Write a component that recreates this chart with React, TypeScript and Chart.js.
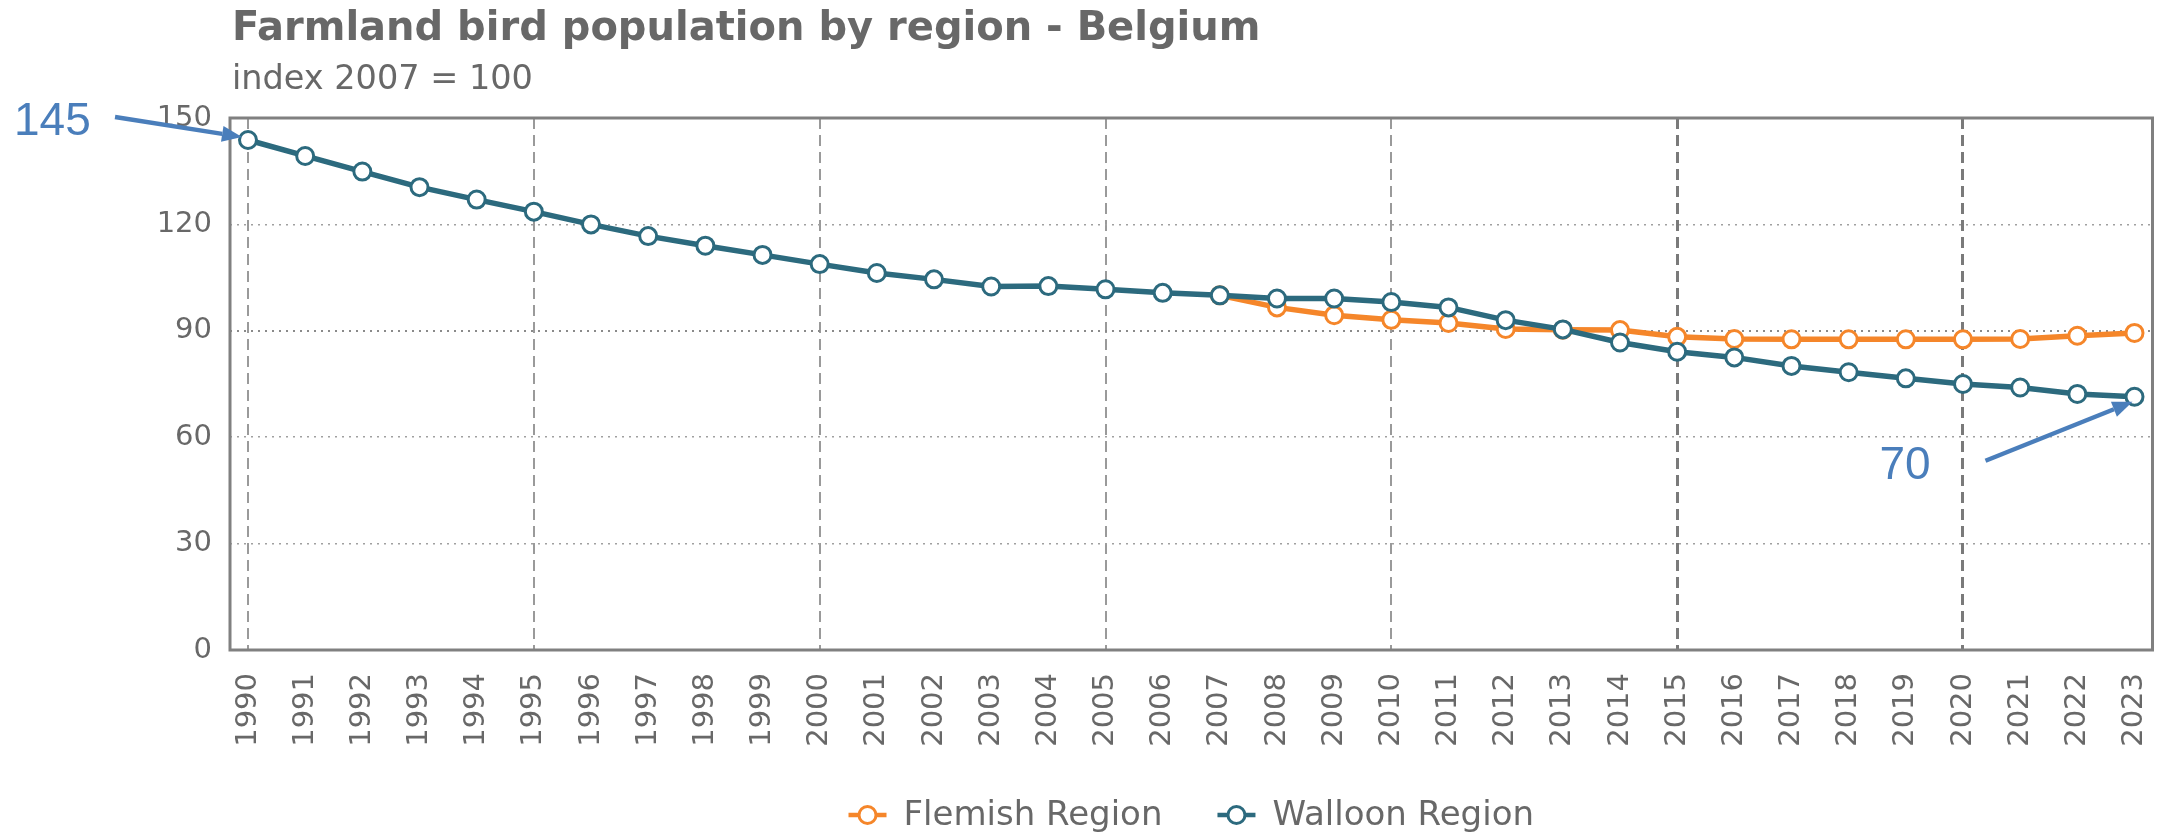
import React, { useEffect, useRef } from "react";
import { Chart, registerables } from "chart.js";

Chart.register(...registerables);

// ---------- data ----------
const years = [
  1990, 1991, 1992, 1993, 1994, 1995, 1996, 1997, 1998, 1999, 2000, 2001,
  2002, 2003, 2004, 2005, 2006, 2007, 2008, 2009, 2010, 2011, 2012, 2013,
  2014, 2015, 2016, 2017, 2018, 2019, 2020, 2021, 2022, 2023,
];

const flemish = [
  null, null, null, null, null, null, null, null, null, null, null, null,
  null, null, null, null, null, 100.0, 96.6, 94.4, 93.1, 92.2, 90.5, 90.3,
  90.2, 88.3, 87.7, 87.6, 87.6, 87.6, 87.6, 87.7, 88.6, 89.4,
];

const walloon = [
  143.8, 139.3, 134.9, 130.5, 127.0, 123.6, 120.0, 116.7, 114.0, 111.4, 108.8, 106.3,
  104.5, 102.5, 102.6, 101.7, 100.7, 100.0, 99.1, 99.1, 98.1, 96.6, 93.0, 90.4,
  86.7, 84.1, 82.5, 80.1, 78.3, 76.6, 75.0, 74.0, 72.2, 71.4,
];

const seriesNames = ["Flemish Region", "Walloon Region"];
const seriesColors = ["#f5862a", "#2c6a7e"];
const yTickValues = [0, 30, 60, 90, 120, 150];
const majorYears = [1990, 1995, 2000, 2005, 2010, 2015, 2020];
const heavyYears = [2015, 2020];
const titleText = "Farmland bird population by region - Belgium";
const subtitleText = "index 2007 = 100";
const callouts = [
  { label: "145", yearIndex: 0 },
  { label: "70", yearIndex: 33 },
];

const FONT = "'DejaVu Sans', Verdana, sans-serif";
const TEXT_GRAY = "#686868";

function drawArrow(ctx: CanvasRenderingContext2D, x1: number, y1: number, x2: number, y2: number) {
  const color = "#4a7ebb";
  const ang = Math.atan2(y2 - y1, x2 - x1);
  const headLen = 20;
  const headW = 8;
  const bx = x2 - headLen * Math.cos(ang);
  const by = y2 - headLen * Math.sin(ang);
  ctx.save();
  ctx.strokeStyle = color;
  ctx.fillStyle = color;
  ctx.lineWidth = 4.5;
  ctx.lineCap = "butt";
  ctx.beginPath();
  ctx.moveTo(x1, y1);
  ctx.lineTo(bx, by);
  ctx.stroke();
  ctx.beginPath();
  ctx.moveTo(x2, y2);
  ctx.lineTo(bx + headW * Math.sin(ang), by - headW * Math.cos(ang));
  ctx.lineTo(bx - headW * Math.sin(ang), by + headW * Math.cos(ang));
  ctx.closePath();
  ctx.fill();
  ctx.restore();
}

const overlayPlugin = {
  id: "overlay",
  beforeDatasetsDraw(chart: any) {
    const { ctx, chartArea } = chart;
    ctx.save();
    ctx.strokeStyle = "#808080";
    ctx.lineWidth = 3;
    ctx.strokeRect(chartArea.left, chartArea.top, chartArea.right - chartArea.left, chartArea.bottom - chartArea.top);
    ctx.restore();
  },
  afterDraw(chart: any) {
    const { ctx, chartArea, scales } = chart;
    ctx.save();
    // title + subtitle
    ctx.fillStyle = TEXT_GRAY;
    ctx.textAlign = "left";
    ctx.textBaseline = "alphabetic";
    ctx.font = `bold 40px ${FONT}`;
    ctx.fillText(titleText, chartArea.left + 2, 40);
    ctx.font = `33.5px ${FONT}`;
    ctx.fillText(subtitleText, chartArea.left + 2, 89);

    // legend
    ctx.font = `34px ${FONT}`;
    const markerW = 38;
    const markerGap = 17;
    const itemGap = 55;
    const widths = seriesNames.map((n) => markerW + markerGap + ctx.measureText(n).width);
    const total = widths.reduce((a, b) => a + b, 0) + itemGap * (widths.length - 1);
    let lx = (chartArea.left + chartArea.right) / 2 - total / 2;
    const ly = 815;
    seriesNames.forEach((name, i) => {
      ctx.strokeStyle = seriesColors[i];
      ctx.lineWidth = 4.5;
      ctx.beginPath();
      ctx.moveTo(lx, ly);
      ctx.lineTo(lx + markerW, ly);
      ctx.stroke();
      ctx.beginPath();
      ctx.arc(lx + markerW / 2, ly, 8.5, 0, Math.PI * 2);
      ctx.fillStyle = "#ffffff";
      ctx.fill();
      ctx.lineWidth = 3;
      ctx.stroke();
      ctx.fillStyle = TEXT_GRAY;
      ctx.textBaseline = "middle";
      ctx.fillText(name, lx + markerW + markerGap, ly + 1);
      lx += widths[i] + itemGap;
    });

    // callouts
    const x = scales.x;
    const y = scales.y;
    ctx.font = `46px 'Liberation Sans', Arial, sans-serif`;
    ctx.fillStyle = "#4a7ebb";
    ctx.textBaseline = "alphabetic";
    {
      const c = callouts[0];
      const px = x.getPixelForValue(years[c.yearIndex]);
      const py = y.getPixelForValue(walloon[c.yearIndex]);
      ctx.fillText(c.label, px - 234, py - 5);
      drawArrow(ctx, px - 133, py - 23, px - 6, py - 3);
    }
    {
      const c = callouts[1];
      const px = x.getPixelForValue(years[c.yearIndex]);
      const py = y.getPixelForValue(walloon[c.yearIndex]);
      ctx.fillText(c.label, px - 255, py + 82);
      drawArrow(ctx, px - 149, py + 64, px - 2, py + 5);
    }
    ctx.restore();
  },
};

export default function App() {
  const canvasRef = useRef<HTMLCanvasElement | null>(null);

  useEffect(() => {
    document.body.style.margin = "0";
    document.body.style.overflow = "hidden";
    const canvas = canvasRef.current;
    if (!canvas) return;

    const makeDataset = (idx: number, values: (number | null)[], order: number) => ({
      label: seriesNames[idx],
      data: years.map((yr, i) => ({ x: yr, y: values[i] })),
      borderColor: seriesColors[idx],
      backgroundColor: seriesColors[idx],
      borderWidth: 5.5,
      pointRadius: 8.5,
      pointHoverRadius: 8.5,
      pointBorderWidth: 3,
      pointBackgroundColor: "#ffffff",
      pointBorderColor: seriesColors[idx],
      tension: 0,
      spanGaps: false,
      order,
    });

    const chart = new Chart(canvas, {
      type: "line",
      data: {
        datasets: [makeDataset(0, flemish, 1), makeDataset(1, walloon, 0)],
      },
      options: {
        animation: false,
        responsive: false,
        devicePixelRatio: 1,
        layout: { padding: { top: 118, right: 10, left: 0, bottom: 0 } },
        plugins: {
          legend: { display: false },
          title: { display: false },
          tooltip: { enabled: false },
        },
        scales: {
          x: {
            type: "linear",
            min: 1989.685,
            max: 2023.315,
            afterBuildTicks: (scale: any) => {
              scale.ticks = years.map((v) => ({ value: v }));
            },
            afterFit: (scale: any) => {
              scale.height = 186;
              scale.paddingLeft = 0;
              scale.paddingRight = 0;
            },
            ticks: {
              autoSkip: false,
              maxRotation: 90,
              minRotation: 90,
              padding: 23,
              color: TEXT_GRAY,
              font: { family: FONT, size: 29 },
              callback: (v: any) => String(v),
            },
            grid: {
              drawTicks: false,
              color: (ctx: any) =>
                ctx.tick && majorYears.includes(ctx.tick.value)
                  ? heavyYears.includes(ctx.tick.value)
                    ? "#7a7a7a"
                    : "#9a9a9a"
                  : "rgba(0,0,0,0)",
              lineWidth: (ctx: any) =>
                ctx.tick && heavyYears.includes(ctx.tick.value) ? 3 : 2,
            },
            border: { display: false, dash: [11, 6] },
          },
          y: {
            min: 0,
            max: 150,
            afterBuildTicks: (scale: any) => {
              scale.ticks = yTickValues.map((v) => ({ value: v }));
            },
            afterFit: (scale: any) => {
              scale.width = 230;
            },
            ticks: {
              padding: 18,
              color: TEXT_GRAY,
              font: { family: FONT, size: 29 },
              callback: (v: any) => String(v),
            },
            grid: {
              drawTicks: false,
              color: (ctx: any) => (ctx.tick && ctx.tick.value === 90 ? "#8a8a8a" : "#a0a0a0"),
              lineWidth: (ctx: any) => (ctx.tick && ctx.tick.value === 90 ? 2 : 1.5),
            },
            border: { display: false, dash: [2, 5] },
          },
        },
      },
      plugins: [overlayPlugin],
    } as any);

    return () => chart.destroy();
  }, []);

  return (
    <div style={{ width: 2164, height: 836, position: "relative", background: "#ffffff" }}>
      <canvas ref={canvasRef} width={2164} height={836} style={{ display: "block" }} />
    </div>
  );
}
